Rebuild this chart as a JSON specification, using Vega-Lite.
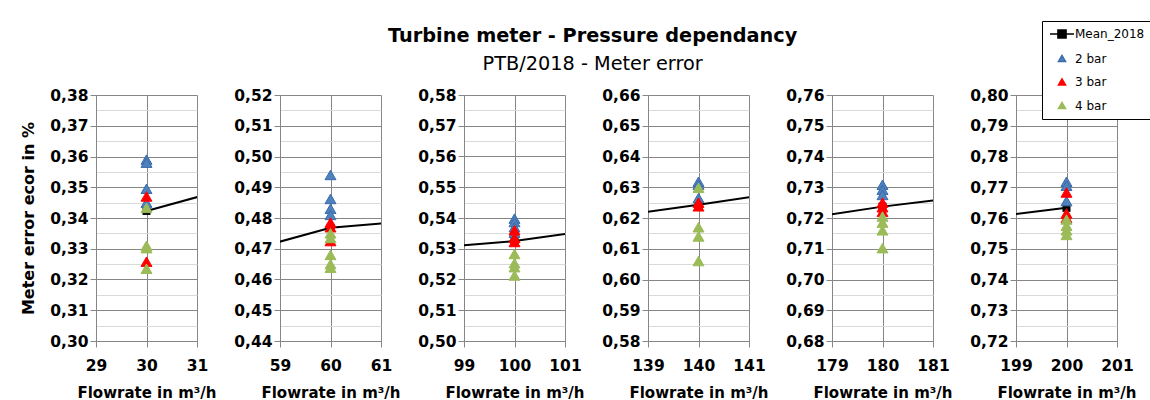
{
  "$schema": "https://vega.github.io/schema/vega-lite/v6.json",
  "background": "white",
  "padding": {"left": 20, "top": 20, "right": 2, "bottom": 0},
  "title": {
    "text": "Turbine meter - Pressure dependancy",
    "subtitle": "PTB/2018 - Meter error",
    "anchor": "middle",
    "dx": 6,
    "offset": -54,
    "font": "DejaVu Sans",
    "fontSize": 19.3,
    "fontWeight": "bold",
    "color": "black",
    "subtitleFont": "DejaVu Sans",
    "subtitleFontSize": 19.3,
    "subtitleColor": "black",
    "subtitlePadding": 9
  },
  "data": {
    "values": [
      {"flow": 30, "err": 0.3423, "series": "Mean_2018"},
      {"flow": 60, "err": 0.4768, "series": "Mean_2018"},
      {"flow": 100, "err": 0.5325, "series": "Mean_2018"},
      {"flow": 140, "err": 0.6243, "series": "Mean_2018"},
      {"flow": 180, "err": 0.7237, "series": "Mean_2018"},
      {"flow": 200, "err": 0.7633, "series": "Mean_2018"},

      {"flow": 30, "err": 0.3590, "series": "2 bar"},
      {"flow": 30, "err": 0.3580, "series": "2 bar"},
      {"flow": 30, "err": 0.3495, "series": "2 bar"},
      {"flow": 30, "err": 0.3450, "series": "2 bar"},
      {"flow": 60, "err": 0.4940, "series": "2 bar"},
      {"flow": 60, "err": 0.4862, "series": "2 bar"},
      {"flow": 60, "err": 0.4830, "series": "2 bar"},
      {"flow": 60, "err": 0.4810, "series": "2 bar"},
      {"flow": 100, "err": 0.5398, "series": "2 bar"},
      {"flow": 100, "err": 0.5387, "series": "2 bar"},
      {"flow": 100, "err": 0.5370, "series": "2 bar"},
      {"flow": 100, "err": 0.5352, "series": "2 bar"},
      {"flow": 140, "err": 0.6318, "series": "2 bar"},
      {"flow": 140, "err": 0.6308, "series": "2 bar"},
      {"flow": 140, "err": 0.6265, "series": "2 bar"},
      {"flow": 180, "err": 0.7308, "series": "2 bar"},
      {"flow": 180, "err": 0.7292, "series": "2 bar"},
      {"flow": 180, "err": 0.7275, "series": "2 bar"},
      {"flow": 200, "err": 0.7718, "series": "2 bar"},
      {"flow": 200, "err": 0.7705, "series": "2 bar"},
      {"flow": 200, "err": 0.7655, "series": "2 bar"},

      {"flow": 30, "err": 0.3470, "series": "3 bar"},
      {"flow": 30, "err": 0.3258, "series": "3 bar"},
      {"flow": 60, "err": 0.4785, "series": "3 bar"},
      {"flow": 60, "err": 0.4770, "series": "3 bar"},
      {"flow": 60, "err": 0.4725, "series": "3 bar"},
      {"flow": 100, "err": 0.5360, "series": "3 bar"},
      {"flow": 100, "err": 0.5335, "series": "3 bar"},
      {"flow": 100, "err": 0.5322, "series": "3 bar"},
      {"flow": 140, "err": 0.6250, "series": "3 bar"},
      {"flow": 140, "err": 0.6238, "series": "3 bar"},
      {"flow": 180, "err": 0.7250, "series": "3 bar"},
      {"flow": 180, "err": 0.7235, "series": "3 bar"},
      {"flow": 180, "err": 0.7220, "series": "3 bar"},
      {"flow": 200, "err": 0.7683, "series": "3 bar"},
      {"flow": 200, "err": 0.7615, "series": "3 bar"},
      {"flow": 200, "err": 0.7600, "series": "3 bar"},

      {"flow": 30, "err": 0.3433, "series": "4 bar"},
      {"flow": 30, "err": 0.3310, "series": "4 bar"},
      {"flow": 30, "err": 0.3302, "series": "4 bar"},
      {"flow": 30, "err": 0.3235, "series": "4 bar"},
      {"flow": 60, "err": 0.4750, "series": "4 bar"},
      {"flow": 60, "err": 0.4735, "series": "4 bar"},
      {"flow": 60, "err": 0.4680, "series": "4 bar"},
      {"flow": 60, "err": 0.4650, "series": "4 bar"},
      {"flow": 60, "err": 0.4638, "series": "4 bar"},
      {"flow": 100, "err": 0.5283, "series": "4 bar"},
      {"flow": 100, "err": 0.5253, "series": "4 bar"},
      {"flow": 100, "err": 0.5240, "series": "4 bar"},
      {"flow": 100, "err": 0.5213, "series": "4 bar"},
      {"flow": 140, "err": 0.6298, "series": "4 bar"},
      {"flow": 140, "err": 0.6170, "series": "4 bar"},
      {"flow": 140, "err": 0.6140, "series": "4 bar"},
      {"flow": 140, "err": 0.6060, "series": "4 bar"},
      {"flow": 180, "err": 0.7205, "series": "4 bar"},
      {"flow": 180, "err": 0.7185, "series": "4 bar"},
      {"flow": 180, "err": 0.7160, "series": "4 bar"},
      {"flow": 180, "err": 0.7102, "series": "4 bar"},
      {"flow": 200, "err": 0.7595, "series": "4 bar"},
      {"flow": 200, "err": 0.7575, "series": "4 bar"},
      {"flow": 200, "err": 0.7560, "series": "4 bar"},
      {"flow": 200, "err": 0.7545, "series": "4 bar"}
    ]
  },
  "spacing": 16,
  "hconcat": [
    {
      "width": 101, "height": 246,
      "encoding": {
        "x": {"field": "flow", "type": "quantitative", "scale": {"domain": [29, 31], "nice": false, "zero": false}, "axis": {"values": [29, 30, 31], "labelExpr": "format(datum.value, 'd')", "title": "Flowrate in m³/h"}},
        "y": {"field": "err", "type": "quantitative", "scale": {"domain": [0.30, 0.38], "nice": false, "zero": false},
          "axis": {"title": "Meter error ecor in %",
            "values": [0.3, 0.305, 0.31, 0.315, 0.32, 0.325, 0.33, 0.335, 0.34, 0.345, 0.35, 0.355, 0.36, 0.365, 0.37, 0.375, 0.38],
            "labelExpr": "abs(datum.value*100 - round(datum.value*100)) > 0.01 ? '' : replace(format(datum.value, '.2f'), '.', ',')",
            "gridColor": {"condition": {"test": "abs(datum.value*100 - round(datum.value*100)) > 0.01", "value": "#D9D9D9"}, "value": "#868686"},
            "tickOpacity": {"condition": {"test": "abs(datum.value*100 - round(datum.value*100)) > 0.01", "value": 0}, "value": 1}}}
      },
      "layer": [
        {"transform": [{"filter": "datum.series === 'Mean_2018'"}], "mark": {"type": "line", "color": "black", "strokeWidth": 2, "clip": true}},
        {"transform": [{"filter": "datum.series === 'Mean_2018'"}], "mark": {"type": "point", "shape": "square", "filled": true, "color": "black", "opacity": 1, "size": 64, "clip": true}},
        {"transform": [{"filter": "datum.series !== 'Mean_2018'"}], "mark": {"type": "point", "filled": true, "opacity": 1, "size": 120, "strokeWidth": 1, "clip": true},
          "encoding": {
            "color": {"field": "series", "type": "nominal", "scale": {"domain": ["Mean_2018", "2 bar", "3 bar", "4 bar"], "range": ["#000000", "#4F81BD", "#FF0000", "#9BBB59"]}},
            "stroke": {"field": "series", "type": "nominal", "scale": {"domain": ["Mean_2018", "2 bar", "3 bar", "4 bar"], "range": ["#000000", "#3A6BAA", "#FF0000", "#9BBB59"]}},
            "shape": {"field": "series", "type": "nominal", "scale": {"domain": ["Mean_2018", "2 bar", "3 bar", "4 bar"], "range": ["M-3.4,0H3.4M-1.15,-1.15H1.15V1.15H-1.15Z", "triangle-up", "triangle-up", "triangle-up"]}}
          }}
      ]
    },
    {
      "width": 101, "height": 246,
      "encoding": {
        "x": {"field": "flow", "type": "quantitative", "scale": {"domain": [59, 61], "nice": false, "zero": false}, "axis": {"values": [59, 60, 61], "labelExpr": "format(datum.value, 'd')", "title": "Flowrate in m³/h"}},
        "y": {"field": "err", "type": "quantitative", "scale": {"domain": [0.44, 0.52], "nice": false, "zero": false},
          "axis": {"title": null,
            "values": [0.44, 0.445, 0.45, 0.455, 0.46, 0.465, 0.47, 0.475, 0.48, 0.485, 0.49, 0.495, 0.5, 0.505, 0.51, 0.515, 0.52],
            "labelExpr": "abs(datum.value*100 - round(datum.value*100)) > 0.01 ? '' : replace(format(datum.value, '.2f'), '.', ',')",
            "gridColor": {"condition": {"test": "abs(datum.value*100 - round(datum.value*100)) > 0.01", "value": "#D9D9D9"}, "value": "#868686"},
            "tickOpacity": {"condition": {"test": "abs(datum.value*100 - round(datum.value*100)) > 0.01", "value": 0}, "value": 1}}}
      },
      "layer": [
        {"transform": [{"filter": "datum.series === 'Mean_2018'"}], "mark": {"type": "line", "color": "black", "strokeWidth": 2, "clip": true}},
        {"transform": [{"filter": "datum.series === 'Mean_2018'"}], "mark": {"type": "point", "shape": "square", "filled": true, "color": "black", "opacity": 1, "size": 64, "clip": true}},
        {"transform": [{"filter": "datum.series !== 'Mean_2018'"}], "mark": {"type": "point", "filled": true, "opacity": 1, "size": 120, "strokeWidth": 1, "clip": true},
          "encoding": {
            "color": {"field": "series", "type": "nominal", "scale": {"domain": ["Mean_2018", "2 bar", "3 bar", "4 bar"], "range": ["#000000", "#4F81BD", "#FF0000", "#9BBB59"]}},
            "stroke": {"field": "series", "type": "nominal", "scale": {"domain": ["Mean_2018", "2 bar", "3 bar", "4 bar"], "range": ["#000000", "#3A6BAA", "#FF0000", "#9BBB59"]}},
            "shape": {"field": "series", "type": "nominal", "scale": {"domain": ["Mean_2018", "2 bar", "3 bar", "4 bar"], "range": ["M-3.4,0H3.4M-1.15,-1.15H1.15V1.15H-1.15Z", "triangle-up", "triangle-up", "triangle-up"]}}
          }}
      ]
    },
    {
      "width": 101, "height": 246,
      "encoding": {
        "x": {"field": "flow", "type": "quantitative", "scale": {"domain": [99, 101], "nice": false, "zero": false}, "axis": {"values": [99, 100, 101], "labelExpr": "format(datum.value, 'd')", "title": "Flowrate in m³/h"}},
        "y": {"field": "err", "type": "quantitative", "scale": {"domain": [0.50, 0.58], "nice": false, "zero": false},
          "axis": {"title": null,
            "values": [0.5, 0.505, 0.51, 0.515, 0.52, 0.525, 0.53, 0.535, 0.54, 0.545, 0.55, 0.555, 0.56, 0.565, 0.57, 0.575, 0.58],
            "labelExpr": "abs(datum.value*100 - round(datum.value*100)) > 0.01 ? '' : replace(format(datum.value, '.2f'), '.', ',')",
            "gridColor": {"condition": {"test": "abs(datum.value*100 - round(datum.value*100)) > 0.01", "value": "#D9D9D9"}, "value": "#868686"},
            "tickOpacity": {"condition": {"test": "abs(datum.value*100 - round(datum.value*100)) > 0.01", "value": 0}, "value": 1}}}
      },
      "layer": [
        {"transform": [{"filter": "datum.series === 'Mean_2018'"}], "mark": {"type": "line", "color": "black", "strokeWidth": 2, "clip": true}},
        {"transform": [{"filter": "datum.series === 'Mean_2018'"}], "mark": {"type": "point", "shape": "square", "filled": true, "color": "black", "opacity": 1, "size": 64, "clip": true}},
        {"transform": [{"filter": "datum.series !== 'Mean_2018'"}], "mark": {"type": "point", "filled": true, "opacity": 1, "size": 120, "strokeWidth": 1, "clip": true},
          "encoding": {
            "color": {"field": "series", "type": "nominal", "scale": {"domain": ["Mean_2018", "2 bar", "3 bar", "4 bar"], "range": ["#000000", "#4F81BD", "#FF0000", "#9BBB59"]}},
            "stroke": {"field": "series", "type": "nominal", "scale": {"domain": ["Mean_2018", "2 bar", "3 bar", "4 bar"], "range": ["#000000", "#3A6BAA", "#FF0000", "#9BBB59"]}},
            "shape": {"field": "series", "type": "nominal", "scale": {"domain": ["Mean_2018", "2 bar", "3 bar", "4 bar"], "range": ["M-3.4,0H3.4M-1.15,-1.15H1.15V1.15H-1.15Z", "triangle-up", "triangle-up", "triangle-up"]}}
          }}
      ]
    },
    {
      "width": 101, "height": 246,
      "encoding": {
        "x": {"field": "flow", "type": "quantitative", "scale": {"domain": [139, 141], "nice": false, "zero": false}, "axis": {"values": [139, 140, 141], "labelExpr": "format(datum.value, 'd')", "title": "Flowrate in m³/h"}},
        "y": {"field": "err", "type": "quantitative", "scale": {"domain": [0.58, 0.66], "nice": false, "zero": false},
          "axis": {"title": null,
            "values": [0.58, 0.585, 0.59, 0.595, 0.6, 0.605, 0.61, 0.615, 0.62, 0.625, 0.63, 0.635, 0.64, 0.645, 0.65, 0.655, 0.66],
            "labelExpr": "abs(datum.value*100 - round(datum.value*100)) > 0.01 ? '' : replace(format(datum.value, '.2f'), '.', ',')",
            "gridColor": {"condition": {"test": "abs(datum.value*100 - round(datum.value*100)) > 0.01", "value": "#D9D9D9"}, "value": "#868686"},
            "tickOpacity": {"condition": {"test": "abs(datum.value*100 - round(datum.value*100)) > 0.01", "value": 0}, "value": 1}}}
      },
      "layer": [
        {"transform": [{"filter": "datum.series === 'Mean_2018'"}], "mark": {"type": "line", "color": "black", "strokeWidth": 2, "clip": true}},
        {"transform": [{"filter": "datum.series === 'Mean_2018'"}], "mark": {"type": "point", "shape": "square", "filled": true, "color": "black", "opacity": 1, "size": 64, "clip": true}},
        {"transform": [{"filter": "datum.series !== 'Mean_2018'"}], "mark": {"type": "point", "filled": true, "opacity": 1, "size": 120, "strokeWidth": 1, "clip": true},
          "encoding": {
            "color": {"field": "series", "type": "nominal", "scale": {"domain": ["Mean_2018", "2 bar", "3 bar", "4 bar"], "range": ["#000000", "#4F81BD", "#FF0000", "#9BBB59"]}},
            "stroke": {"field": "series", "type": "nominal", "scale": {"domain": ["Mean_2018", "2 bar", "3 bar", "4 bar"], "range": ["#000000", "#3A6BAA", "#FF0000", "#9BBB59"]}},
            "shape": {"field": "series", "type": "nominal", "scale": {"domain": ["Mean_2018", "2 bar", "3 bar", "4 bar"], "range": ["M-3.4,0H3.4M-1.15,-1.15H1.15V1.15H-1.15Z", "triangle-up", "triangle-up", "triangle-up"]}}
          }}
      ]
    },
    {
      "width": 101, "height": 246,
      "encoding": {
        "x": {"field": "flow", "type": "quantitative", "scale": {"domain": [179, 181], "nice": false, "zero": false}, "axis": {"values": [179, 180, 181], "labelExpr": "format(datum.value, 'd')", "title": "Flowrate in m³/h"}},
        "y": {"field": "err", "type": "quantitative", "scale": {"domain": [0.68, 0.76], "nice": false, "zero": false},
          "axis": {"title": null,
            "values": [0.68, 0.685, 0.69, 0.695, 0.7, 0.705, 0.71, 0.715, 0.72, 0.725, 0.73, 0.735, 0.74, 0.745, 0.75, 0.755, 0.76],
            "labelExpr": "abs(datum.value*100 - round(datum.value*100)) > 0.01 ? '' : replace(format(datum.value, '.2f'), '.', ',')",
            "gridColor": {"condition": {"test": "abs(datum.value*100 - round(datum.value*100)) > 0.01", "value": "#D9D9D9"}, "value": "#868686"},
            "tickOpacity": {"condition": {"test": "abs(datum.value*100 - round(datum.value*100)) > 0.01", "value": 0}, "value": 1}}}
      },
      "layer": [
        {"transform": [{"filter": "datum.series === 'Mean_2018'"}], "mark": {"type": "line", "color": "black", "strokeWidth": 2, "clip": true}},
        {"transform": [{"filter": "datum.series === 'Mean_2018'"}], "mark": {"type": "point", "shape": "square", "filled": true, "color": "black", "opacity": 1, "size": 64, "clip": true}},
        {"transform": [{"filter": "datum.series !== 'Mean_2018'"}], "mark": {"type": "point", "filled": true, "opacity": 1, "size": 120, "strokeWidth": 1, "clip": true},
          "encoding": {
            "color": {"field": "series", "type": "nominal", "scale": {"domain": ["Mean_2018", "2 bar", "3 bar", "4 bar"], "range": ["#000000", "#4F81BD", "#FF0000", "#9BBB59"]}},
            "stroke": {"field": "series", "type": "nominal", "scale": {"domain": ["Mean_2018", "2 bar", "3 bar", "4 bar"], "range": ["#000000", "#3A6BAA", "#FF0000", "#9BBB59"]}},
            "shape": {"field": "series", "type": "nominal", "scale": {"domain": ["Mean_2018", "2 bar", "3 bar", "4 bar"], "range": ["M-3.4,0H3.4M-1.15,-1.15H1.15V1.15H-1.15Z", "triangle-up", "triangle-up", "triangle-up"]}}
          }}
      ]
    },
    {
      "width": 101, "height": 246,
      "encoding": {
        "x": {"field": "flow", "type": "quantitative", "scale": {"domain": [199, 201], "nice": false, "zero": false}, "axis": {"values": [199, 200, 201], "labelExpr": "format(datum.value, 'd')", "title": "Flowrate in m³/h"}},
        "y": {"field": "err", "type": "quantitative", "scale": {"domain": [0.72, 0.80], "nice": false, "zero": false},
          "axis": {"title": null,
            "values": [0.72, 0.725, 0.73, 0.735, 0.74, 0.745, 0.75, 0.755, 0.76, 0.765, 0.77, 0.775, 0.78, 0.785, 0.79, 0.795, 0.8],
            "labelExpr": "abs(datum.value*100 - round(datum.value*100)) > 0.01 ? '' : replace(format(datum.value, '.2f'), '.', ',')",
            "gridColor": {"condition": {"test": "abs(datum.value*100 - round(datum.value*100)) > 0.01", "value": "#D9D9D9"}, "value": "#868686"},
            "tickOpacity": {"condition": {"test": "abs(datum.value*100 - round(datum.value*100)) > 0.01", "value": 0}, "value": 1}}}
      },
      "layer": [
        {"transform": [{"filter": "datum.series === 'Mean_2018'"}], "mark": {"type": "line", "color": "black", "strokeWidth": 2, "clip": true}},
        {"transform": [{"filter": "datum.series === 'Mean_2018'"}], "mark": {"type": "point", "shape": "square", "filled": true, "color": "black", "opacity": 1, "size": 64, "clip": true}},
        {"transform": [{"filter": "datum.series !== 'Mean_2018'"}], "mark": {"type": "point", "filled": true, "opacity": 1, "size": 120, "strokeWidth": 1, "clip": true},
          "encoding": {
            "color": {"field": "series", "type": "nominal", "scale": {"domain": ["Mean_2018", "2 bar", "3 bar", "4 bar"], "range": ["#000000", "#4F81BD", "#FF0000", "#9BBB59"]}},
            "stroke": {"field": "series", "type": "nominal", "scale": {"domain": ["Mean_2018", "2 bar", "3 bar", "4 bar"], "range": ["#000000", "#3A6BAA", "#FF0000", "#9BBB59"]}},
            "shape": {"field": "series", "type": "nominal", "scale": {"domain": ["Mean_2018", "2 bar", "3 bar", "4 bar"], "range": ["M-3.4,0H3.4M-1.15,-1.15H1.15V1.15H-1.15Z", "triangle-up", "triangle-up", "triangle-up"]}}
          }}
      ]
    }
  ],
  "config": {
    "font": "DejaVu Sans",
    "view": {"stroke": null},
    "axis": {
      "labelFont": "DejaVu Sans",
      "labelFontWeight": "bold",
      "labelFontSize": 15.5,
      "labelColor": "black",
      "labelFlush": false,
      "labelOverlap": false,
      "titleFont": "DejaVu Sans",
      "titleFontWeight": "bold",
      "titleColor": "black",
      "domainColor": "#868686",
      "tickColor": "#868686",
      "gridColor": "#868686",
      "gridOpacity": 1,
      "tickSize": 6,
      "grid": true
    },
    "axisX": {"labelPadding": 11, "titleFontSize": 15, "titlePadding": 12},
    "axisY": {"labelPadding": 2, "titleFontSize": 16, "titlePadding": 13},
    "legend": {
      "title": null,
      "orient": "none",
      "legendX": 946,
      "legendY": -74,
      "strokeColor": "black",
      "fillColor": "white",
      "padding": 7,
      "symbolSize": 50,
      "symbolStrokeWidth": 1.5,
      "symbolOffset": 7,
      "labelOffset": 7,
      "labelFont": "DejaVu Sans",
      "labelFontSize": 12,
      "labelColor": "black",
      "rowPadding": 9.5
    }
  }
}
